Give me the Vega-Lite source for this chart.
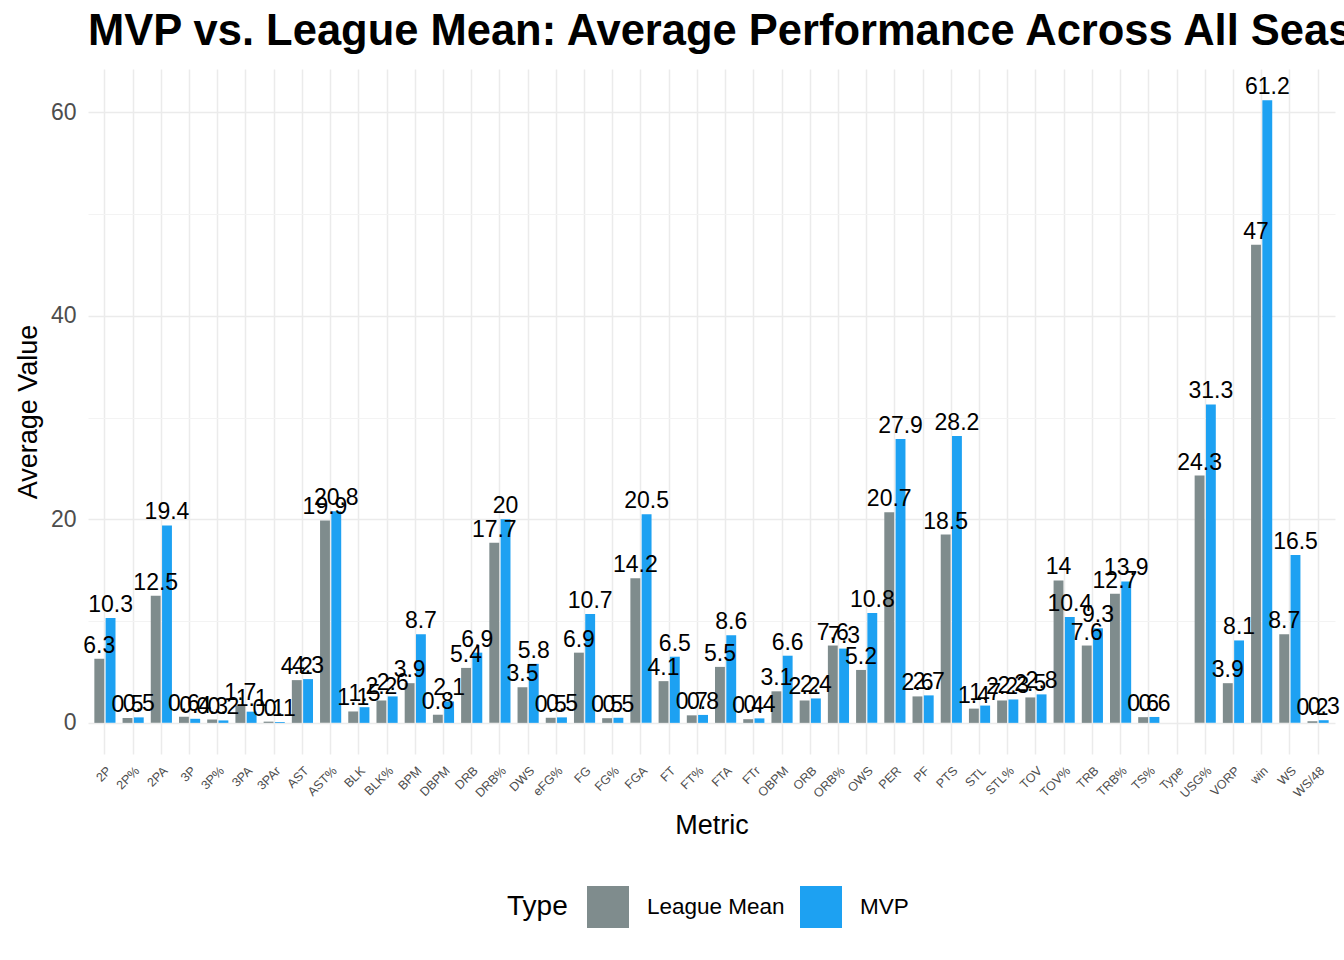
{
  "$schema": "https://vega.github.io/schema/vega-lite/v6.json",
  "width": 1247,
  "height": 685,
  "autosize": {"type": "none"},
  "padding": {"left": 88, "top": 69, "right": 9, "bottom": 206},
  "background": "white",
  "config": {"view": {"stroke": null}, "font": "Liberation Sans"},
  "title": {
    "text": "MVP vs. League Mean: Average Performance Across All Seasons",
    "anchor": "start",
    "frame": "group",
    "fontSize": 43.5,
    "font": "Liberation Sans",
    "fontWeight": "bold",
    "color": "black",
    "baseline": "alphabetic",
    "offset": -19
  },
  "data": {
    "values": [
      {"Metric": "2P", "Type": "League Mean", "value": 6.3}, {"Metric": "2P", "Type": "MVP", "value": 10.3},
      {"Metric": "2P%", "Type": "League Mean", "value": 0.48}, {"Metric": "2P%", "Type": "MVP", "value": 0.54},
      {"Metric": "2PA", "Type": "League Mean", "value": 12.5}, {"Metric": "2PA", "Type": "MVP", "value": 19.4},
      {"Metric": "3P", "Type": "League Mean", "value": 0.6}, {"Metric": "3P", "Type": "MVP", "value": 0.4},
      {"Metric": "3P%", "Type": "League Mean", "value": 0.33}, {"Metric": "3P%", "Type": "MVP", "value": 0.24},
      {"Metric": "3PA", "Type": "League Mean", "value": 1.7}, {"Metric": "3PA", "Type": "MVP", "value": 1.1},
      {"Metric": "3PAr", "Type": "League Mean", "value": 0.12}, {"Metric": "3PAr", "Type": "MVP", "value": 0.08},
      {"Metric": "AST", "Type": "League Mean", "value": 4.2}, {"Metric": "AST", "Type": "MVP", "value": 4.3},
      {"Metric": "AST%", "Type": "League Mean", "value": 19.9}, {"Metric": "AST%", "Type": "MVP", "value": 20.8},
      {"Metric": "BLK", "Type": "League Mean", "value": 1.12}, {"Metric": "BLK", "Type": "MVP", "value": 1.54},
      {"Metric": "BLK%", "Type": "League Mean", "value": 2.2}, {"Metric": "BLK%", "Type": "MVP", "value": 2.6},
      {"Metric": "BPM", "Type": "League Mean", "value": 3.9}, {"Metric": "BPM", "Type": "MVP", "value": 8.7},
      {"Metric": "DBPM", "Type": "League Mean", "value": 0.8}, {"Metric": "DBPM", "Type": "MVP", "value": 2.1},
      {"Metric": "DRB", "Type": "League Mean", "value": 5.4}, {"Metric": "DRB", "Type": "MVP", "value": 6.9},
      {"Metric": "DRB%", "Type": "League Mean", "value": 17.7}, {"Metric": "DRB%", "Type": "MVP", "value": 20},
      {"Metric": "DWS", "Type": "League Mean", "value": 3.5}, {"Metric": "DWS", "Type": "MVP", "value": 5.8},
      {"Metric": "eFG%", "Type": "League Mean", "value": 0.5}, {"Metric": "eFG%", "Type": "MVP", "value": 0.54},
      {"Metric": "FG", "Type": "League Mean", "value": 6.9}, {"Metric": "FG", "Type": "MVP", "value": 10.7},
      {"Metric": "FG%", "Type": "League Mean", "value": 0.46}, {"Metric": "FG%", "Type": "MVP", "value": 0.5},
      {"Metric": "FGA", "Type": "League Mean", "value": 14.2}, {"Metric": "FGA", "Type": "MVP", "value": 20.5},
      {"Metric": "FT", "Type": "League Mean", "value": 4.1}, {"Metric": "FT", "Type": "MVP", "value": 6.5},
      {"Metric": "FT%", "Type": "League Mean", "value": 0.74}, {"Metric": "FT%", "Type": "MVP", "value": 0.78},
      {"Metric": "FTA", "Type": "League Mean", "value": 5.5}, {"Metric": "FTA", "Type": "MVP", "value": 8.6},
      {"Metric": "FTr", "Type": "League Mean", "value": 0.36}, {"Metric": "FTr", "Type": "MVP", "value": 0.44},
      {"Metric": "OBPM", "Type": "League Mean", "value": 3.1}, {"Metric": "OBPM", "Type": "MVP", "value": 6.6},
      {"Metric": "ORB", "Type": "League Mean", "value": 2.2}, {"Metric": "ORB", "Type": "MVP", "value": 2.4},
      {"Metric": "ORB%", "Type": "League Mean", "value": 7.6}, {"Metric": "ORB%", "Type": "MVP", "value": 7.3},
      {"Metric": "OWS", "Type": "League Mean", "value": 5.2}, {"Metric": "OWS", "Type": "MVP", "value": 10.8},
      {"Metric": "PER", "Type": "League Mean", "value": 20.7}, {"Metric": "PER", "Type": "MVP", "value": 27.9},
      {"Metric": "PF", "Type": "League Mean", "value": 2.6}, {"Metric": "PF", "Type": "MVP", "value": 2.7},
      {"Metric": "PTS", "Type": "League Mean", "value": 18.5}, {"Metric": "PTS", "Type": "MVP", "value": 28.2},
      {"Metric": "STL", "Type": "League Mean", "value": 1.4}, {"Metric": "STL", "Type": "MVP", "value": 1.7},
      {"Metric": "STL%", "Type": "League Mean", "value": 2.2}, {"Metric": "STL%", "Type": "MVP", "value": 2.3},
      {"Metric": "TOV", "Type": "League Mean", "value": 2.5}, {"Metric": "TOV", "Type": "MVP", "value": 2.8},
      {"Metric": "TOV%", "Type": "League Mean", "value": 14}, {"Metric": "TOV%", "Type": "MVP", "value": 10.4},
      {"Metric": "TRB", "Type": "League Mean", "value": 7.6}, {"Metric": "TRB", "Type": "MVP", "value": 9.3},
      {"Metric": "TRB%", "Type": "League Mean", "value": 12.7}, {"Metric": "TRB%", "Type": "MVP", "value": 13.9},
      {"Metric": "TS%", "Type": "League Mean", "value": 0.56}, {"Metric": "TS%", "Type": "MVP", "value": 0.58},
      {"Metric": "USG%", "Type": "League Mean", "value": 24.3}, {"Metric": "USG%", "Type": "MVP", "value": 31.3},
      {"Metric": "VORP", "Type": "League Mean", "value": 3.9}, {"Metric": "VORP", "Type": "MVP", "value": 8.1},
      {"Metric": "win", "Type": "League Mean", "value": 47}, {"Metric": "win", "Type": "MVP", "value": 61.2},
      {"Metric": "WS", "Type": "League Mean", "value": 8.7}, {"Metric": "WS", "Type": "MVP", "value": 16.5},
      {"Metric": "WS/48", "Type": "League Mean", "value": 0.16}, {"Metric": "WS/48", "Type": "MVP", "value": 0.26}
    ]
  },
  "encoding": {
    "x": {
      "field": "Metric",
      "type": "nominal",
      "title": "Metric",
      "scale": {
        "domain": ["2P", "2P%", "2PA", "3P", "3P%", "3PA", "3PAr", "AST", "AST%", "BLK", "BLK%", "BPM", "DBPM", "DRB", "DRB%", "DWS", "eFG%", "FG", "FG%", "FGA", "FT", "FT%", "FTA", "FTr", "OBPM", "ORB", "ORB%", "OWS", "PER", "PF", "PTS", "STL", "STL%", "TOV", "TOV%", "TRB", "TRB%", "TS%", "Type", "USG%", "VORP", "win", "WS", "WS/48"],
        "paddingInner": 0,
        "paddingOuter": 0.1
      },
      "axis": {
        "labelAngle": -45,
        "labelAlign": "right",
        "labelBaseline": "top",
        "labelFontSize": 12.5,
        "labelColor": "#4d4d4d",
        "labelPadding": 10,
        "domain": false,
        "ticks": false,
        "grid": true,
        "gridColor": "#ebebeb",
        "gridWidth": 1.5,
        "bandPosition": 0.5,
        "titleFontSize": 27,
        "titleFontWeight": "normal",
        "titleColor": "black",
        "titlePadding": 13
      }
    },
    "xOffset": {
      "field": "Type",
      "type": "nominal",
      "scale": {"paddingInner": 0.125, "paddingOuter": 0.3125}
    },
    "y": {
      "field": "value",
      "type": "quantitative",
      "title": "Average Value",
      "scale": {"domain": [-3.06, 64.26], "nice": false, "zero": false},
      "axis": {
        "values": [0, 10, 20, 30, 40, 50, 60],
        "labelExpr": "datum.value % 20 === 0 ? datum.label : ''",
        "labelFontSize": 23,
        "labelColor": "#4d4d4d",
        "labelPadding": 12,
        "domain": false,
        "ticks": false,
        "grid": true,
        "gridColor": {"condition": {"test": "datum.value % 20 === 0", "value": "#ebebeb"}, "value": "#f3f3f3"},
        "gridWidth": {"condition": {"test": "datum.value % 20 === 0", "value": 1.5}, "value": 1},
        "titleFontSize": 27,
        "titleFontWeight": "normal",
        "titleColor": "black",
        "titlePadding": 8
      }
    }
  },
  "layer": [
    {
      "mark": {"type": "bar"},
      "encoding": {
        "y2": {"datum": 0},
        "color": {
          "field": "Type",
          "type": "nominal",
          "scale": {"domain": ["League Mean", "MVP"], "range": ["#7F8C8D", "#1DA1F2"]},
          "legend": {
            "orient": "none",
            "legendX": 419,
            "legendY": 817,
            "direction": "horizontal",
            "titleOrient": "left",
            "title": "Type",
            "titleFontSize": 28,
            "titleFontWeight": "normal",
            "titleColor": "black",
            "titlePadding": 19,
            "symbolType": "square",
            "symbolSize": 1764,
            "symbolStrokeWidth": 0,
            "symbolOpacity": 1,
            "labelFontSize": 22.5,
            "labelColor": "black",
            "labelOffset": 18,
            "columnPadding": 15
          }
        }
      }
    },
    {
      "mark": {"type": "text", "baseline": "alphabetic", "dy": -6, "fontSize": 23, "color": "black"},
      "encoding": {
        "text": {"field": "value", "type": "quantitative", "format": ".1~f"}
      }
    }
  ]
}
